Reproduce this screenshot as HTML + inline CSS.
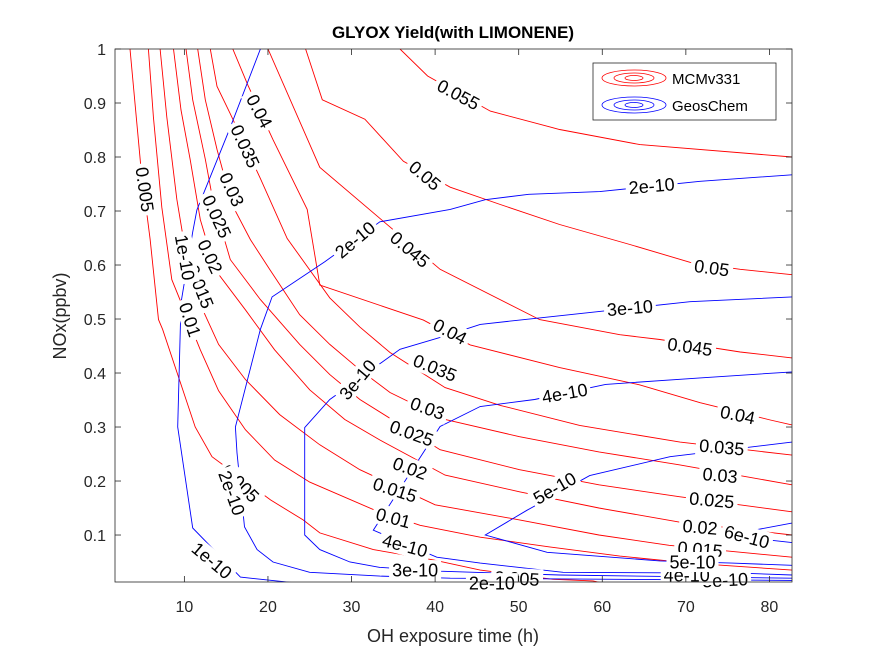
<!DOCTYPE html>
<html><head><meta charset="utf-8"><style>
html,body{margin:0;padding:0;background:#fff;}
svg{display:block;font-family:"Liberation Sans",Arial,sans-serif;}
</style></head><body>
<svg id="chart" width="875" height="656" viewBox="0 0 875 656" xmlns="http://www.w3.org/2000/svg">
<defs><clipPath id="pc"><rect x="115" y="49" width="677" height="533"/></clipPath></defs>
<rect width="875" height="656" fill="#fff"/>
<text x="453" y="38" text-anchor="middle" font-size="17" font-weight="bold" fill="#000">GLYOX Yield(with LIMONENE)</text>
<g id="lines" clip-path="url(#pc)"></g>
<g id="labels"></g>
<g id="axes"></g>
<g>
<rect x="593" y="63" width="183" height="57" fill="#fff" stroke="#262626" stroke-width="0.8"/>
<g fill="none" stroke="#f00" stroke-width="0.8">
<ellipse cx="634" cy="78" rx="32" ry="8"/><ellipse cx="634" cy="78" rx="20" ry="5"/><ellipse cx="634" cy="78" rx="9" ry="2.5"/></g>
<text x="672" y="84" font-size="15" fill="#000">MCMv331</text>
<g fill="none" stroke="#00f" stroke-width="0.8">
<ellipse cx="634" cy="105" rx="32" ry="8"/><ellipse cx="634" cy="105" rx="20" ry="5"/><ellipse cx="634" cy="105" rx="9" ry="2.5"/></g>
<text x="672" y="111" font-size="15" fill="#000">GeosChem</text>
</g>
</svg>
<script>
const xDomain = [1.7, 82.7];
const yDomain = [0.013, 1.0];
const xTicks = [10, 20, 30, 40, 50, 60, 70, 80];
const yTicks = [0.1, 0.2, 0.3, 0.4, 0.5, 0.6, 0.7, 0.8, 0.9, 1];
const yTickLabels = ["0.1","0.2","0.3","0.4","0.5","0.6","0.7","0.8","0.9","1"];

const mcmLevels = ["0.055","0.05","0.045","0.04","0.035","0.03","0.025","0.02","0.015","0.01","0.005"];
const mcm055 = [[35.8,1.0],[39.1,0.95],[46.6,0.885],[54.9,0.851],[64.5,0.823],[82.7,0.80]];
const mcm050 = [[24.5,1.0],[26.5,0.906],[31.6,0.870],[36.2,0.792],[41.8,0.744],[47.8,0.712],[54.9,0.675],[63.3,0.638],[70.5,0.605],[76.5,0.592],[82.7,0.582]];
const mcm045 = [[20.0,1.0],[26.2,0.781],[33.8,0.681],[40.6,0.592],[52.5,0.499],[62.1,0.471],[66.9,0.462],[76.5,0.439],[82.7,0.428]];
const mcm040 = [[15.8,1.0],[17.6,0.933],[20.6,0.832],[24.7,0.703],[26.2,0.563],[38.6,0.498],[44.2,0.452],[54.9,0.410],[64.5,0.378],[71.7,0.345],[80.1,0.313],[82.7,0.304]];
const mcm035 = [[13.1,1.0],[13.9,0.931],[15.5,0.880],[19.1,0.760],[22.3,0.649],[27.4,0.539],[31.0,0.485],[34.6,0.438],[41.2,0.373],[47.8,0.340],[57.3,0.303],[69.3,0.272],[82.7,0.248]];
const mcm030 = [[11.6,1.0],[12.5,0.906],[13.9,0.814],[15.7,0.712],[17.9,0.647],[20.2,0.592],[23.8,0.508],[27.4,0.453],[31.0,0.406],[34.6,0.364],[41.2,0.314],[50.1,0.282],[59.6,0.254],[69.2,0.230],[82.7,0.193]];
const mcm025 = [[10.2,1.0],[11.0,0.906],[12.5,0.796],[13.4,0.721],[15.5,0.610],[19.1,0.536],[23.8,0.453],[27.4,0.397],[31.0,0.351],[40.6,0.258],[50.1,0.221],[59.6,0.193],[69.2,0.171],[82.7,0.143]];
const mcm020 = [[8.7,1.0],[9.6,0.887],[10.7,0.795],[11.9,0.684],[13.7,0.591],[17.3,0.517],[20.8,0.443],[25.0,0.369],[29.2,0.314],[33.4,0.276],[41.2,0.211],[50.1,0.180],[59.6,0.150],[69.2,0.124],[82.7,0.100]];
const mcm015 = [[7.1,1.0],[7.9,0.874],[9.1,0.722],[10.7,0.573],[11.9,0.527],[14.1,0.453],[17.3,0.388],[21.4,0.323],[26.2,0.267],[31.0,0.221],[40.0,0.156],[50.1,0.128],[59.6,0.100],[68.0,0.081],[82.7,0.059]];
const mcm010 = [[5.7,1.0],[6.3,0.874],[7.3,0.707],[8.5,0.573],[11.9,0.443],[14.1,0.367],[17.3,0.295],[20.8,0.239],[25.0,0.198],[28.6,0.174],[32.8,0.146],[38.2,0.118],[45.4,0.096],[53.7,0.078],[62.1,0.061],[70.5,0.048],[82.7,0.035]];
const mcm005 = [[3.5,1.0],[4.8,0.781],[5.9,0.648],[6.9,0.499],[7.4,0.481],[11.3,0.300],[13.3,0.245],[20.3,0.165],[24.2,0.128],[26.2,0.104],[32.6,0.073],[39.8,0.054],[45.4,0.035],[54.1,0.018],[58.9,0.015],[59.7,0.012]];
const mcmSeries = [mcm055,mcm050,mcm045,mcm040,mcm035,mcm030,mcm025,mcm020,mcm015,mcm010,mcm005];

const geosLevels = ["1e-10","2e-10","3e-10","4e-10","5e-10","6e-10a","6e-10b"];
const geos1 = [[19.1,1.0],[15.5,0.855],[11.5,0.702],[11.0,0.661],[9.6,0.530],[9.2,0.300],[11.0,0.113],[16.7,0.022],[23.5,0.011]];
const geos2 = [[82.7,0.767],[71.7,0.755],[59.7,0.736],[51.2,0.731],[46.0,0.721],[41.8,0.703],[33.4,0.680],[26.8,0.606],[20.5,0.541],[19.1,0.481],[16.1,0.300],[16.3,0.252],[17.2,0.115],[18.7,0.073],[20.6,0.050],[25.0,0.031],[33.4,0.024],[41.8,0.020],[82.7,0.016]];
const geos3 = [[82.7,0.541],[70.5,0.532],[59.7,0.514],[52.5,0.502],[45.4,0.490],[40.6,0.466],[35.8,0.444],[27.4,0.351],[24.4,0.299],[24.4,0.100],[26.2,0.073],[29.8,0.050],[33.4,0.040],[40.6,0.033],[54.9,0.026],[82.7,0.020]];
const geos4 = [[82.7,0.402],[71.7,0.391],[60.4,0.379],[51.9,0.351],[45.4,0.338],[40.6,0.301],[32.6,0.109],[40.2,0.059],[45.4,0.048],[55.3,0.031],[67.3,0.030],[75.5,0.030],[82.7,0.026]];
const geos5 = [[82.7,0.272],[68.1,0.245],[58.5,0.210],[51.0,0.146],[46.0,0.100],[53.4,0.068],[66.9,0.052],[75.5,0.048],[82.7,0.044]];
const geos6a = [[82.7,0.122],[76.8,0.105]];
const geos6b = [[80.4,0.090],[82.7,0.086]];
const geosSeries = [geos1,geos2,geos3,geos4,geos5,geos6a,geos6b];

const labelText = ["0.055","0.05","0.05","0.045","0.045","0.04","0.04","0.04","0.035","0.035","0.035","0.03","0.03","0.03","0.025","0.025","0.025","0.02","0.02","0.02","0.015","0.015","0.015","0.01","0.01","0.005","0.005","0.005",
 "1e-10","1e-10","2e-10","2e-10","2e-10","2e-10","3e-10","3e-10","3e-10","3e-10","4e-10","4e-10","4e-10","5e-10","5e-10","6e-10"];
const labelX = [42.8,38.8,73.1,37.0,70.5,19.0,41.8,76.2,17.3,40.0,74.3,15.7,39.1,74.1,13.9,37.2,73.1,13.1,37.0,71.7,11.9,35.2,71.7,10.7,35.0,5.3,16.7,49.8,
 10.1,13.3,65.9,30.4,15.7,46.8,63.3,30.7,37.6,74.7,55.5,36.4,70.1,54.3,70.8,77.3];
const labelY = [0.916,0.766,0.595,0.629,0.449,0.885,0.477,0.323,0.820,0.410,0.263,0.740,0.335,0.211,0.690,0.289,0.165,0.616,0.224,0.115,0.560,0.184,0.074,0.499,0.132,0.740,0.196,0.020,
 0.614,0.053,0.747,0.647,0.178,0.011,0.521,0.388,0.035,0.017,0.363,0.081,0.026,0.187,0.050,0.097];
const labelAngle = [28,40,8,40,8,62,28,12,65,22,5,65,20,5,65,20,5,65,20,5,68,18,5,72,15,82,45,3,
 80,40,-5,-40,70,0,-5,-50,0,-3,-10,15,0,-30,0,15];

const L = 115, R = 792, T = 49, B = 582;
const xs = v => L + (v - xDomain[0]) / (xDomain[1] - xDomain[0]) * (R - L);
const ys = v => B - (v - yDomain[0]) / (yDomain[1] - yDomain[0]) * (B - T);
const NS = "http://www.w3.org/2000/svg";
const gl = document.getElementById("lines");
const glab = document.getElementById("labels");
const ga = document.getElementById("axes");

function drawLine(pts, color, name) {
  const p = document.createElementNS(NS, "polyline");
  p.setAttribute("points", pts.map(d => xs(d[0]).toFixed(1) + "," + ys(d[1]).toFixed(1)).join(" "));
  p.setAttribute("fill", "none");
  p.setAttribute("stroke", color);
  p.setAttribute("stroke-width", "0.9");
  
  
  gl.appendChild(p);
}
mcmSeries.forEach((s, i) => drawLine(s, "#f00", "mcm-contour-" + mcmLevels[i]));
geosSeries.forEach((s, i) => drawLine(s, "#00f", "geos-contour-" + geosLevels[i]));

labelText.forEach((t, i) => {
  const cx = xs(labelX[i]), cy = ys(labelY[i]);
  const g = document.createElementNS(NS, "g");
  g.setAttribute("transform", "translate(" + cx.toFixed(1) + "," + cy.toFixed(1) + ") rotate(" + labelAngle[i] + ")");
  
  
  const w = t.length * 9.6 + 4;
  const r = document.createElementNS(NS, "rect");
  r.setAttribute("x", -w / 2); r.setAttribute("y", -10); r.setAttribute("width", w); r.setAttribute("height", 20);
  r.setAttribute("fill", "#fff");
  g.appendChild(r);
  const tx = document.createElementNS(NS, "text");
  tx.setAttribute("x", 0); tx.setAttribute("y", 6.5);
  tx.setAttribute("text-anchor", "middle");
  tx.setAttribute("font-size", "18");
  tx.setAttribute("fill", "#000");
  tx.textContent = t;
  g.appendChild(tx);
  glab.appendChild(g);
});

const box = document.createElementNS(NS, "rect");
box.setAttribute("x", L); box.setAttribute("y", T); box.setAttribute("width", R - L); box.setAttribute("height", B - T);
box.setAttribute("fill", "none"); box.setAttribute("stroke", "#262626"); box.setAttribute("stroke-width", "0.8");


ga.appendChild(box);

function tickLine(x1, y1, x2, y2) {
  const l = document.createElementNS(NS, "line");
  l.setAttribute("x1", x1); l.setAttribute("y1", y1); l.setAttribute("x2", x2); l.setAttribute("y2", y2);
  l.setAttribute("stroke", "#262626"); l.setAttribute("stroke-width", "0.8");
  
  
  ga.appendChild(l);
}
function tickText(x, y, t, anchor, name) {
  const e = document.createElementNS(NS, "text");
  e.setAttribute("x", x); e.setAttribute("y", y);
  e.setAttribute("text-anchor", anchor);
  e.setAttribute("font-size", "16"); e.setAttribute("fill", "#262626");
  e.textContent = t;
  
  
  ga.appendChild(e);
}
xTicks.forEach(v => {
  const x = xs(v);
  tickLine(x, B, x, B - 6); tickLine(x, T, x, T + 6);
  tickText(x, 612, String(v), "middle", "x-tick-label");
});
yTicks.forEach((v, i) => {
  const y = ys(v);
  tickLine(L, y, L + 6, y); tickLine(R, y, R - 6, y);
  tickText(106, y + 6, yTickLabels[i], "end", "y-tick-label");
});
const xt = document.createElementNS(NS, "text");
xt.setAttribute("x", 453); xt.setAttribute("y", 642); xt.setAttribute("text-anchor", "middle");
xt.setAttribute("font-size", "18"); xt.setAttribute("fill", "#262626");
xt.textContent = "OH exposure time (h)";


ga.appendChild(xt);
const yt = document.createElementNS(NS, "text");
yt.setAttribute("transform", "translate(66,316) rotate(-90)"); yt.setAttribute("text-anchor", "middle");
yt.setAttribute("font-size", "18"); yt.setAttribute("fill", "#262626");
yt.textContent = "NOx(ppbv)";


ga.appendChild(yt);
</script>
</body></html>
